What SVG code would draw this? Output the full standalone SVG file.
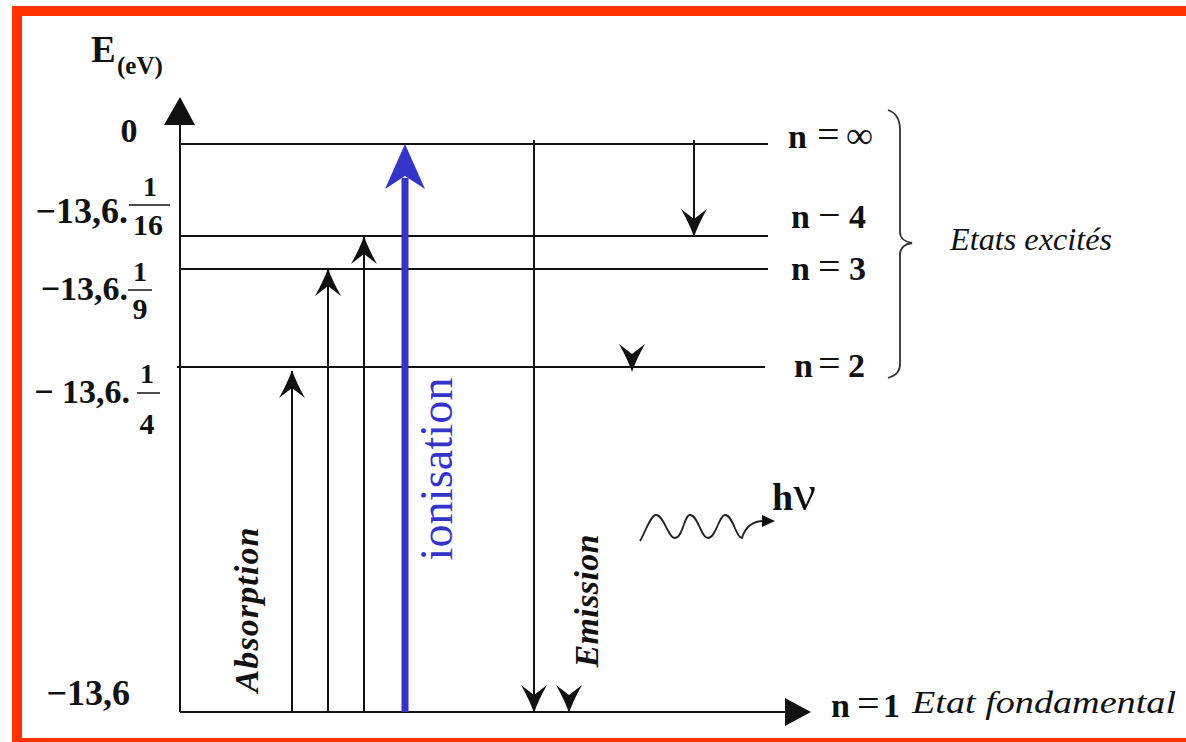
<svg xmlns="http://www.w3.org/2000/svg" width="1186" height="742" viewBox="0 0 1186 742">
<style>
.ln{stroke:#111;stroke-width:2;fill:none}
.b{font-family:"Liberation Serif","Times New Roman",serif;font-weight:bold;fill:#111}
.r{font-family:"Liberation Serif","Times New Roman",serif;fill:#111}
.it{font-family:"Liberation Serif","Times New Roman",serif;font-style:italic;fill:#111}
.bi{font-family:"Liberation Serif","Times New Roman",serif;font-style:italic;font-weight:bold;fill:#111}
.frac{stroke:#111;stroke-width:1.5}
.op{font-weight:normal}
</style>
<defs>
<marker id="barb" viewBox="-28 -14 30 28" refX="0" refY="0" markerWidth="30" markerHeight="28" markerUnits="userSpaceOnUse" orient="auto" overflow="visible">
<path d="M1,0 Q-11,-4 -27,-13 L-17,0 L-27,13 Q-11,4 1,0 Z" fill="#111"/>
</marker>
<path id="hd" d="M0,1 Q-4,-11 -13,-27 L0,-17 L13,-27 Q4,-11 0,1 Z" fill="#111"/>
</defs>
<rect id="frame" x="17" y="11" width="1200" height="732" fill="#fff" stroke="#ff3300" stroke-width="10"/>

<g id="axes">
<line class="ln" x1="180" y1="712" x2="180" y2="122"/>
<polygon points="180,97 164,125 195,125" fill="#111"/>
<line class="ln" x1="180" y1="712" x2="788" y2="712"/>
<polygon points="811,712 785,698 785,726" fill="#111"/>
<text class="b" x="91" y="62" font-size="37">E</text>
<text class="b" x="117" y="74" font-size="25">(eV)</text>
</g>

<g id="level-inf">
<line class="ln" x1="180" y1="144" x2="768" y2="144"/>
<text class="b" y="148" font-size="34"><tspan x="788">n</tspan><tspan class="op" x="817" font-size="40">=</tspan><tspan class="op" x="846" font-size="38">∞</tspan></text>
<text class="b" x="129" y="142" font-size="34" text-anchor="middle">0</text>
</g>
<g id="level-4">
<line class="ln" x1="180" y1="236" x2="768" y2="236"/>
<text class="b" y="228" font-size="34"><tspan x="791">n</tspan><tspan class="op" x="818" font-size="40">−</tspan><tspan x="849">4</tspan></text>
<text class="b" x="128" y="223" font-size="36" text-anchor="end">−13,6.</text>
<text class="b" x="150" y="196" font-size="28" text-anchor="middle">1</text>
<line class="frac" x1="129" y1="205" x2="170" y2="205"/>
<text class="b" x="148" y="235" font-size="30" text-anchor="middle">16</text>
</g>
<g id="level-3">
<line class="ln" x1="180" y1="269" x2="768" y2="269"/>
<text class="b" y="280" font-size="34"><tspan x="791">n</tspan><tspan class="op" x="818" font-size="40">=</tspan><tspan x="849">3</tspan></text>
<text class="b" x="128" y="300" font-size="34" text-anchor="end">−13,6.</text>
<text class="b" x="140" y="281" font-size="28" text-anchor="middle">1</text>
<line class="frac" x1="128" y1="290" x2="152" y2="290"/>
<text class="b" x="140" y="319" font-size="30" text-anchor="middle">9</text>
</g>
<g id="level-2">
<line class="ln" x1="177" y1="367" x2="765" y2="367"/>
<text class="b" y="377" font-size="34"><tspan x="794">n</tspan><tspan class="op" x="818" font-size="40">=</tspan><tspan x="848">2</tspan></text>
<text class="b" x="130" y="403" font-size="34" text-anchor="end" xml:space="preserve">− 13,6.</text>
<text class="b" x="147" y="383" font-size="28" text-anchor="middle">1</text>
<line class="frac" x1="137" y1="393" x2="160" y2="393"/>
<text class="b" x="147" y="434" font-size="30" text-anchor="middle">4</text>
</g>
<g id="level-1">
<text class="b" y="717" font-size="34"><tspan x="831">n</tspan><tspan class="op" x="857" font-size="40">=</tspan><tspan x="883">1</tspan></text>
<text class="it" x="912" y="713" font-size="32" textLength="264" lengthAdjust="spacingAndGlyphs">Etat fondamental</text>
<text class="b" x="130" y="705" font-size="36" text-anchor="end">−13,6</text>
</g>

<g id="excited-brace">
<path d="M888,110 C897,113 900,120 900,130 L900,232 C900,238 905,242 912,243 C905,244 900,248 900,254 L900,364 C900,371 897,375 888,378" fill="none" stroke="#333" stroke-width="1.8"/>
<text class="it" x="950" y="250" font-size="32" textLength="162" lengthAdjust="spacingAndGlyphs">Etats excités</text>
</g>

<g id="connectors">
<line class="ln" x1="292" y1="712" x2="292" y2="371" marker-end="url(#barb)"/>
<line class="ln" x1="328" y1="712" x2="328" y2="269" marker-end="url(#barb)"/>
<line class="ln" x1="364" y1="712" x2="364" y2="237" marker-end="url(#barb)"/>
<line x1="405" y1="712" x2="405" y2="178" stroke="#3434c8" stroke-width="7"/>
<path d="M405,144 L385,189 L405,176 L425,189 Z" fill="#3434c8"/>
<line class="ln" x1="534" y1="140" x2="534" y2="712" marker-end="url(#barb)"/>
<use href="#hd" x="569" y="712"/>
<line class="ln" x1="694" y1="140" x2="694" y2="236" marker-end="url(#barb)"/>
<use href="#hd" x="632" y="371"/>
</g>

<g id="labels">
<text class="bi" transform="translate(258,610) rotate(-90)" font-size="34" text-anchor="middle" textLength="165" lengthAdjust="spacing">Absorption</text>
<text class="r" transform="translate(452,469) rotate(-90)" font-size="46" text-anchor="middle" style="fill:#3434c8" textLength="183" lengthAdjust="spacing">ionisation</text>
<text class="bi" transform="translate(598,601) rotate(-90)" font-size="34" text-anchor="middle" textLength="133" lengthAdjust="spacing">Emission</text>
</g>

<g id="photon">
<path d="M640,541 C647,528 651,515 656,515 C664,515 668,538 675,538 C683,538 684,515 690,515 C698,515 701,538 708,538 C716,538 719,515 725,515 C733,515 736,538 742,538 C745,528 752,521 764,521" fill="none" stroke="#222" stroke-width="1.8"/>
<polygon points="775,521 762,515 762,527" fill="#111"/>
<text class="b" x="772" y="510" font-size="38">h<tspan font-size="50" font-weight="normal">ν</tspan></text>
</g>
</svg>
